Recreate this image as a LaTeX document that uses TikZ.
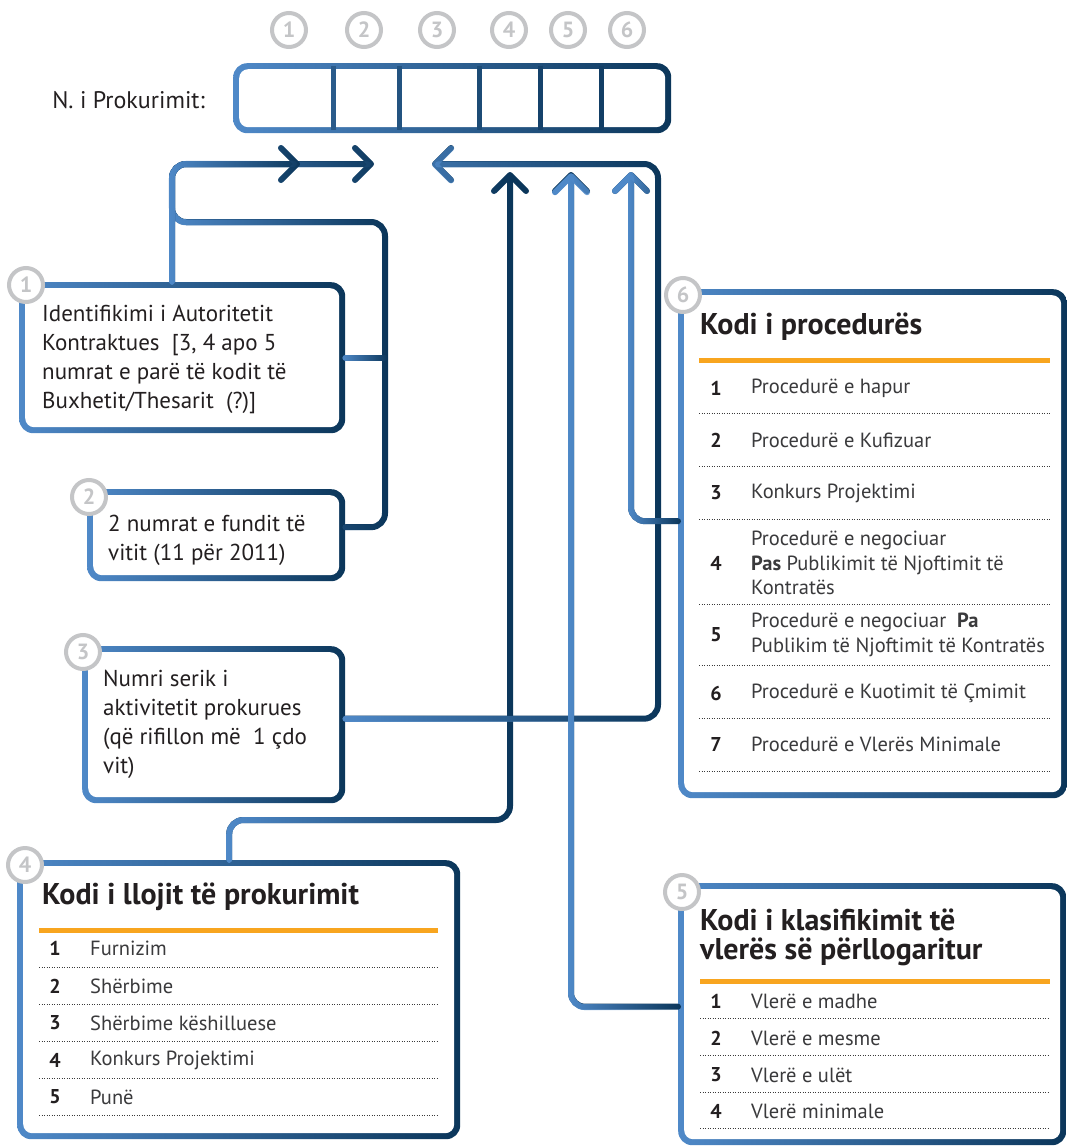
\documentclass[tikz,border=0pt]{standalone}
\usepackage{fontspec}
\setmainfont{PT Sans}
\usepackage{tikz}
\usetikzlibrary{arrows.meta,fadings}
\definecolor{lightBlue}{HTML}{4F89C8}
\definecolor{navy}{HTML}{0B365A}
\definecolor{ink}{HTML}{231F20}
\definecolor{itemInk}{HTML}{3A3A3C}
\definecolor{ring}{HTML}{C4C5C7}
\definecolor{amber}{HTML}{F8A51F}
\definecolor{dots}{HTML}{3A3A3A}
\tikzset{
  boxFrame/.style={rectangle, rounded corners=14pt, inner sep=0pt, anchor=north west,
    left color=lightBlue, right color=navy,
    path picture={\fill[white, rounded corners=9pt]
      ([shift={(6pt,6pt)}]path picture bounding box.south west) rectangle
      ([shift={(-6pt,-6pt)}]path picture bounding box.north east);}},
  badge/.style={circle, draw=ring, line width=4pt, fill=white, minimum size=34pt,
    inner sep=0pt, text=ring, font=\bfseries\fontsize{22}{22}\selectfont},
  conn/.style={draw=navy, line width=6pt, rounded corners=14pt, line cap=round,
    postaction={draw=lightBlue, path fading=east}},
  arrowTip/.style={-{Straight Barb[length=16pt, width=32pt, round]}},
  divider/.style={line width=5pt},
  bodyText/.style={anchor=north west, inner sep=0pt, align=left, text=ink,
    font=\fontsize{23}{29}\selectfont},
  titleText/.style={anchor=west, inner sep=0pt, align=left, text=ink,
    font=\bfseries\fontsize{30}{29}\selectfont},
  itemNum/.style={inner sep=0pt, text=ink, font=\bfseries\fontsize{20}{24}\selectfont},
  itemText/.style={anchor=west, inner sep=0pt, align=left, text=itemInk,
    font=\fontsize{20.5}{24.5}\selectfont},
  amberRule/.style={draw=amber, line width=5pt},
  dotRule/.style={draw=dots, line width=1pt, dash pattern=on 1pt off 1.5pt}
}
\begin{document}
\begin{tikzpicture}[x=1pt, y=-1pt]
  \useasboundingbox (0,0) rectangle (1067,1148);

  \node[badge] (c1) at (289,30) {1};
  \node[badge] (c2) at (364,30) {2};
  \node[badge] (c3) at (437,30) {3};
  \node[badge] (c4) at (509,30) {4};
  \node[badge] (c5) at (568,30) {5};
  \node[badge] (c6) at (627,30) {6};

  \node[anchor=east, inner sep=0pt, text=ink, font=\fontsize{24}{24}\selectfont] (lbl) at (205,100) {N. i Prokurimit:};
  \node[boxFrame, minimum width=438pt, minimum height=70pt] (b0) at (233,63) {};
  \draw[divider, draw=navy!55!lightBlue] (333,66) -- (333,130);
  \draw[divider, draw=navy!65!lightBlue] (399,66) -- (399,130);
  \draw[divider, draw=navy!75!lightBlue] (479,66) -- (479,130);
  \draw[divider, draw=navy!85!lightBlue] (540,66) -- (540,130);
  \draw[divider, draw=navy!90!lightBlue] (601,66) -- (601,130);

  \node[boxFrame, minimum width=326pt, minimum height=151pt] (b1) at (19,282) {};
  \node[boxFrame, minimum width=258pt, minimum height=92pt] (b2) at (87,489) {};
  \node[boxFrame, minimum width=263pt, minimum height=157pt] (b3) at (82,646) {};
  \node[boxFrame, minimum width=443pt, minimum height=279pt] (b4) at (17,860) {};
  \node[boxFrame, minimum width=389pt, minimum height=509pt] (b6) at (678,289) {};
  \node[boxFrame, minimum width=388pt, minimum height=262pt] (b5) at (678,883) {};

  \coordinate (l1) at (172,164);
  \coordinate (l2) at (385,222);
  \coordinate (l3) at (658,164);
  \coordinate (l4) at (510,820);
  \coordinate (tipA) at (300,164);
  \coordinate (tipB) at (374,164);
  \coordinate (tipC) at (432,164);
  \coordinate (tipD) at (510,172);
  \coordinate (tipE) at (571,172);
  \coordinate (tipF) at (631,172);

  \draw[conn, arrowTip] ([yshift=8pt]b2.east) -| (l2) -| (l1) -- (tipB);
  \draw[conn, arrowTip] (b1.north -| l1) -- (l1) -- (tipA);
  \draw[conn] (b1.east) -- (b1.east -| l2);
  \draw[conn, arrowTip] ([xshift=-9.5pt]b4.north) |- (l4) -- (tipD);
  \draw[conn, arrowTip] ([yshift=6pt]b3.east) -| (l3) -- (tipC);
  \draw[conn, arrowTip] ([yshift=7.5pt]b5.west) -| (tipE);
  \draw[conn, arrowTip] ([yshift=22.5pt]b6.west) -| (tipF);

  \node[badge] (d1) at (26,285) {1};
  \node[badge] (d2) at (89,497) {2};
  \node[badge] (d3) at (83,652) {3};
  \node[badge] (d4) at (25,865) {4};
  \node[badge] (d5) at (682,892) {5};
  \node[badge] (d6) at (683,295) {6};

  \node[bodyText] (x1) at (42,305) {Identifikimi i Autoritetit\\Kontraktues~ [3, 4 apo 5\\numrat e parë të kodit të\\Buxhetit/Thesarit~ (?)]};
  \node[bodyText] (x2) at (108,515) {2 numrat e fundit të\\vitit (11 për 2011)};
  \node[bodyText] (x3) at (103,670) {Numri serik i\\aktivitetit prokurues\\(që rifillon më~ 1 çdo\\vit)};

  \node[titleText] (h6) at (700,327) {Kodi i procedurës};
  \draw[amberRule] (699,360) -- (1050,360);
  \node[itemNum] (n61) at (716,388) {1};
  \node[itemText] (t61) at (751,388) {Procedurë e hapur};
  \draw[dotRule] (699,413) -- (1050,413);
  \node[itemNum] (n62) at (716,440) {2};
  \node[itemText] (t62) at (751,440) {Procedurë e Kufizuar};
  \draw[dotRule] (699,466) -- (1050,466);
  \node[itemNum] (n63) at (716,493) {3};
  \node[itemText] (t63) at (751,493) {Konkurs Projektimi};
  \draw[dotRule] (699,519) -- (1050,519);
  \node[itemNum] (n64) at (716,563) {4};
  \node[itemText] (t64) at (751,563) {Procedurë e negociuar\\\textbf{Pas} Publikimit të Njoftimit të\\Kontratës};
  \draw[dotRule] (699,604) -- (1050,604);
  \node[itemNum] (n65) at (716,635) {5};
  \node[itemText] (t65) at (751,635) {Procedurë e negociuar~ \textbf{Pa}\\Publikim të Njoftimit të Kontratës};
  \draw[dotRule] (699,665) -- (1050,665);
  \node[itemNum] (n66) at (716,693) {6};
  \node[itemText] (t66) at (751,693) {Procedurë e Kuotimit të Çmimit};
  \draw[dotRule] (699,718) -- (1050,718);
  \node[itemNum] (n67) at (716,744) {7};
  \node[itemText] (t67) at (751,744) {Procedurë e Vlerës Minimale};
  \draw[dotRule] (699,771) -- (1050,771);

  \node[titleText] (h4) at (42,897) {Kodi i llojit të prokurimit};
  \draw[amberRule] (39,930) -- (438,930);
  \node[itemNum] (n41) at (55,948) {1};
  \node[itemText] (t41) at (90,948) {Furnizim};
  \draw[dotRule] (39,967) -- (438,967);
  \node[itemNum] (n42) at (55,986) {2};
  \node[itemText] (t42) at (90,986) {Shërbime};
  \draw[dotRule] (39,1004) -- (438,1004);
  \node[itemNum] (n43) at (55,1023) {3};
  \node[itemText] (t43) at (90,1023) {Shërbime këshilluese};
  \draw[dotRule] (39,1041) -- (438,1041);
  \node[itemNum] (n44) at (55,1060) {4};
  \node[itemText] (t44) at (90,1060) {Konkurs Projektimi};
  \draw[dotRule] (39,1078) -- (438,1078);
  \node[itemNum] (n45) at (55,1097) {5};
  \node[itemText] (t45) at (90,1097) {Punë};
  \draw[dotRule] (39,1115) -- (438,1115);

  \node[titleText] (h5) at (700,937) {Kodi i klasifikimit të\\vlerës së përllogaritur};
  \draw[amberRule] (700,981) -- (1050,981);
  \node[itemNum] (n51) at (716,1001) {1};
  \node[itemText] (t51) at (751,1001) {Vlerë e madhe};
  \draw[dotRule] (700,1018) -- (1050,1018);
  \node[itemNum] (n52) at (716,1038) {2};
  \node[itemText] (t52) at (751,1038) {Vlerë e mesme};
  \draw[dotRule] (700,1055) -- (1050,1055);
  \node[itemNum] (n53) at (716,1075) {3};
  \node[itemText] (t53) at (751,1075) {Vlerë e ulët};
  \draw[dotRule] (700,1092) -- (1050,1092);
  \node[itemNum] (n54) at (716,1111) {4};
  \node[itemText] (t54) at (751,1111) {Vlerë minimale};
  \draw[dotRule] (700,1128) -- (1050,1128);
\end{tikzpicture}
\end{document}
